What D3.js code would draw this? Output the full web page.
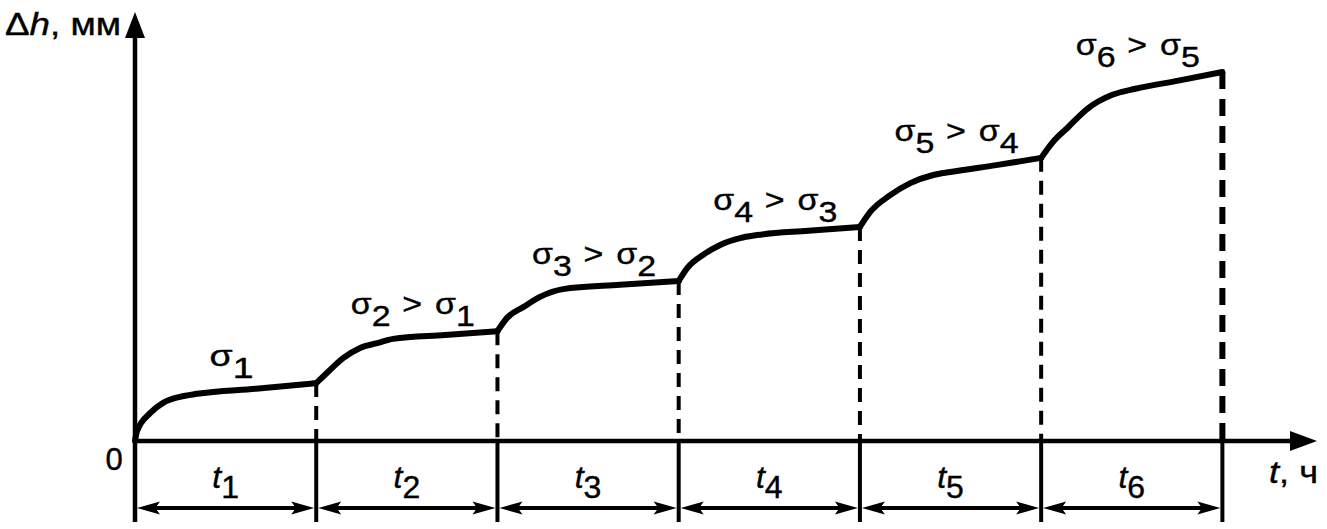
<!DOCTYPE html>
<html>
<head>
<meta charset="utf-8">
<script src="https://cdn.jsdelivr.net/npm/d3@7"></script>
<style>
  html, body { margin: 0; padding: 0; background: #fff; }
  svg { display: block; }
  text { font-family: "Liberation Sans", Arial, "DejaVu Sans", sans-serif; fill: #000; stroke: #000; stroke-width: 0.4px; }
</style>
</head>
<body>
<svg id="chart" width="1327" height="529"></svg>
<script>
// ---- data (time in stage units, Δh in arbitrary units) ----
const stageNames = ["1", "2", "3", "4", "5", "6"];
const stageBounds = [0, 1, 2, 3, 4, 5, 6];

const stage1T = [0, 0.011, 0.083, 0.155, 0.248, 0.342, 0.668, 1];
const stage1H = [0, 2.3, 6.5, 8.9, 10.3, 11.0, 12.2, 13.5];
const stage2T = [1, 1.06, 1.148, 1.242, 1.336, 1.424, 1.711, 2];
const stage2H = [13.5, 15.9, 19.3, 21.7, 22.8, 23.8, 24.7, 25.6];
const stage3T = [2, 2.053, 2.142, 2.235, 2.362, 2.677, 3];
const stage3H = [25.6, 28.7, 31.2, 33.6, 35.4, 36.4, 37.3];
const stage4T = [3, 3.047, 3.135, 3.229, 3.339, 3.433, 3.715, 4];
const stage4H = [37.3, 40.3, 43.4, 45.7, 47.3, 48.0, 49.0, 49.9];
const stage5T = [4, 4.057, 4.167, 4.278, 4.405, 4.499, 4.752, 5];
const stage5H = [49.9, 53.4, 57.3, 60.1, 62.0, 62.7, 64.3, 66.0];
const stage6T = [5, 5.061, 5.150, 5.260, 5.393, 5.52, 5.757, 6];
const stage6H = [66.0, 69.5, 73.2, 77.6, 80.7, 82.1, 84.0, 86.0];

// σ labels: [current, previous]
const sigmaLabels = [["1", null], ["2", "1"], ["3", "2"], ["4", "3"], ["5", "4"], ["6", "5"]];

const yAxisLabel = ["Δ", "h", ", мм"];
const xAxisLabel = ["t", ", ч"];
const originLabel = "0";

// ---- layout ----
const svg = d3.select("#chart");
const x = d3.scaleLinear().domain([0, 6.5]).range([135, 1313]);
const y = d3.scaleLinear().domain([0, 100]).range([441, 12]);

const stagesT = [stage1T, stage2T, stage3T, stage4T, stage5T, stage6T];
const stagesH = [stage1H, stage2H, stage3H, stage4H, stage5H, stage6H];

const x0 = x(0), y0 = y(0);
const dimY = 508, bottomY = 522;

// axes
svg.append("line").attr("x1", x0).attr("x2", x0).attr("y1", bottomY).attr("y2", y(100) + 20)
  .attr("stroke", "#000").attr("stroke-width", 4.5);
svg.append("path")
  .attr("d", `M${x0},${y(100)} L${x0 - 10},${y(100) + 26} L${x0 + 10},${y(100) + 26} Z`)
  .attr("fill", "#000");
const xEnd = x(6.5) + 4;
svg.append("line").attr("x1", x0).attr("x2", xEnd - 20).attr("y1", y0).attr("y2", y0)
  .attr("stroke", "#000").attr("stroke-width", 4.5);
svg.append("path")
  .attr("d", `M${xEnd},${y0} L${xEnd - 27},${y0 - 10} L${xEnd - 27},${y0 + 10} Z`)
  .attr("fill", "#000");

// boundaries: dashed above axis, solid below
stageBounds.slice(1).forEach((b, i) => {
  const h = stagesH[i][stagesH[i].length - 1];
  const last = i === stageBounds.length - 2;
  svg.append("line")
    .attr("x1", x(b)).attr("x2", x(b)).attr("y1", y(h)).attr("y2", y0)
    .attr("stroke", "#000").attr("stroke-width", last ? 6 : 4)
    .attr("stroke-dasharray", last ? "17,10" : "14,9");
  svg.append("line")
    .attr("x1", x(b)).attr("x2", x(b)).attr("y1", y0).attr("y2", bottomY)
    .attr("stroke", "#000").attr("stroke-width", 4);
});

// dimension arrows
const arrowLen = 23, arrowHW = 6.5;
function arrowHead(tipX, dir) {
  const bx = tipX + dir * arrowLen;
  const nx = tipX + dir * arrowLen * 0.8;
  return `M${tipX},${dimY} L${bx},${dimY - arrowHW} L${nx},${dimY} L${bx},${dimY + arrowHW} Z`;
}
stageNames.forEach((s, i) => {
  const a = x(stageBounds[i]) + 2, b = x(stageBounds[i + 1]) - 2;
  svg.append("line").attr("x1", a + 10).attr("x2", b - 10).attr("y1", dimY).attr("y2", dimY)
    .attr("stroke", "#000").attr("stroke-width", 4);
  svg.append("path").attr("d", arrowHead(a, 1)).attr("fill", "#000");
  svg.append("path").attr("d", arrowHead(b, -1)).attr("fill", "#000");
  // t_i labels
  const t = svg.append("text")
    .attr("x", x((stageBounds[i] + stageBounds[i + 1]) / 2))
    .attr("y", 488).attr("text-anchor", "middle").attr("font-size", 32);
  t.append("tspan").attr("font-style", "italic").text("t");
  t.append("tspan").attr("dy", 10).text(s);
});

// curve
const line = d3.line().x(d => x(d[0])).y(d => y(d[1])).curve(d3.curveMonotoneX);
stagesT.forEach((ts, i) => {
  const pts = ts.map((t, j) => [t, stagesH[i][j]]);
  svg.append("path").attr("d", line(pts))
    .attr("fill", "none").attr("stroke", "#000").attr("stroke-width", 6)
    .attr("stroke-linejoin", "round").attr("stroke-linecap", "round");
});

// σ labels
sigmaLabels.forEach((lab, i) => {
  const endH = stagesH[i][stagesH[i].length - 1];
  const cx = x((stageBounds[i] + stageBounds[i + 1]) / 2) + 6;
  const tx = svg.append("text").attr("x", cx).attr("y", y(endH) - 17)
    .attr("text-anchor", "middle").attr("font-size", 30)
    .attr("lengthAdjust", "spacingAndGlyphs")
    .attr("textLength", lab[1] ? 124 : 44);
  tx.append("tspan").text("σ");
  tx.append("tspan").attr("dy", 12).text(lab[0]);
  if (lab[1]) {
    tx.append("tspan").attr("dy", -12).attr("dx", 2).text(" > ");
    tx.append("tspan").attr("dx", 3).text("σ");
    tx.append("tspan").attr("dy", 12).text(lab[1]);
  }
});

// axis labels
const yl = svg.append("text").attr("x", 5).attr("y", 35).attr("font-size", 31)
  .attr("lengthAdjust", "spacingAndGlyphs").attr("textLength", 116);
yl.append("tspan").text(yAxisLabel[0]);
yl.append("tspan").attr("font-style", "italic").text(yAxisLabel[1]);
yl.append("tspan").text(yAxisLabel[2]);

svg.append("text").attr("x", 114).attr("y", 470).attr("text-anchor", "middle")
  .attr("font-size", 31).text(originLabel);

const xl = svg.append("text").attr("x", 1269).attr("y", 483).attr("font-size", 32)
  .attr("lengthAdjust", "spacingAndGlyphs").attr("textLength", 49);
xl.append("tspan").attr("font-style", "italic").text(xAxisLabel[0]);
xl.append("tspan").text(xAxisLabel[1]);
</script>
</body>
</html>
